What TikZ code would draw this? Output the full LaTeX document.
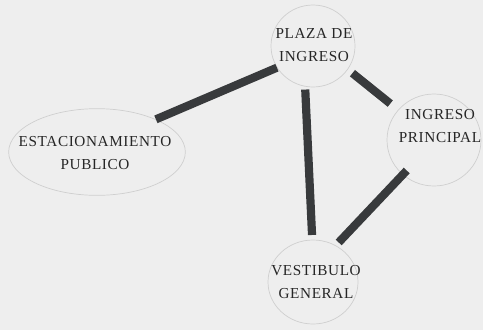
\documentclass[tikz,border=0pt]{standalone}
\usepackage{fontspec}
\setmainfont{Liberation Serif}
\usetikzlibrary{shapes.geometric}
\definecolor{cPaper}{HTML}{EEEEEE}
\definecolor{cRing}{HTML}{CFCFCF}
\definecolor{cInk}{HTML}{383A3C}
\definecolor{cText}{HTML}{262626}

\begin{document}
\begin{tikzpicture}[x=0.03cm,y=-0.03cm,
      font=\fontsize{13}{19}\selectfont\addfontfeatures{LetterSpace=4},
      zona/.style={ellipse,draw=cRing,line width=0.6pt,inner sep=0pt},
      rotulo/.style={text=cText,align=center,inner sep=0pt},
      enlace/.style={draw=cInk,line width=7pt}]
    \fill[cPaper] (0,0) rectangle (483,330);
    \useasboundingbox (0,0) rectangle (483,330);
    % zonas
    \node[zona,minimum width=2.52cm,minimum height=2.46cm] (plaza) at (313,46) {};
    \node[zona,minimum width=2.82cm,minimum height=2.76cm] (ingreso) at (434,140) {};
    \node[zona,minimum width=5.3cm,minimum height=2.6cm] (estac) at (97,152) {};
    \node[zona,minimum width=2.7cm,minimum height=2.52cm] (vest) at (313,282) {};
    \node[rotulo] (plazaT) at (314,45) {PLAZA DE\\INGRESO};
    \node[rotulo] (ingresoT) at (440,126) {INGRESO\\PRINCIPAL};
    \node[rotulo] (estacT) at (95,153) {ESTACIONAMIENTO\\PUBLICO};
    \node[rotulo] (vestT) at (316,282) {VESTIBULO\\GENERAL};
    % enlaces
    \draw[enlace] (plaza.211) -- (estac.29);
    \draw[enlace,shorten <=5pt,shorten >=8.5pt] (plaza.326) -- (ingreso.140);
    \draw[enlace,shorten <=2.5pt,shorten >=4pt] (plaza.259) -- (vest.91);
    \draw[enlace,shorten <=-5pt,shorten >=3.5pt] (ingreso.228) -- (vest.58);
  \end{tikzpicture}
\end{document}
